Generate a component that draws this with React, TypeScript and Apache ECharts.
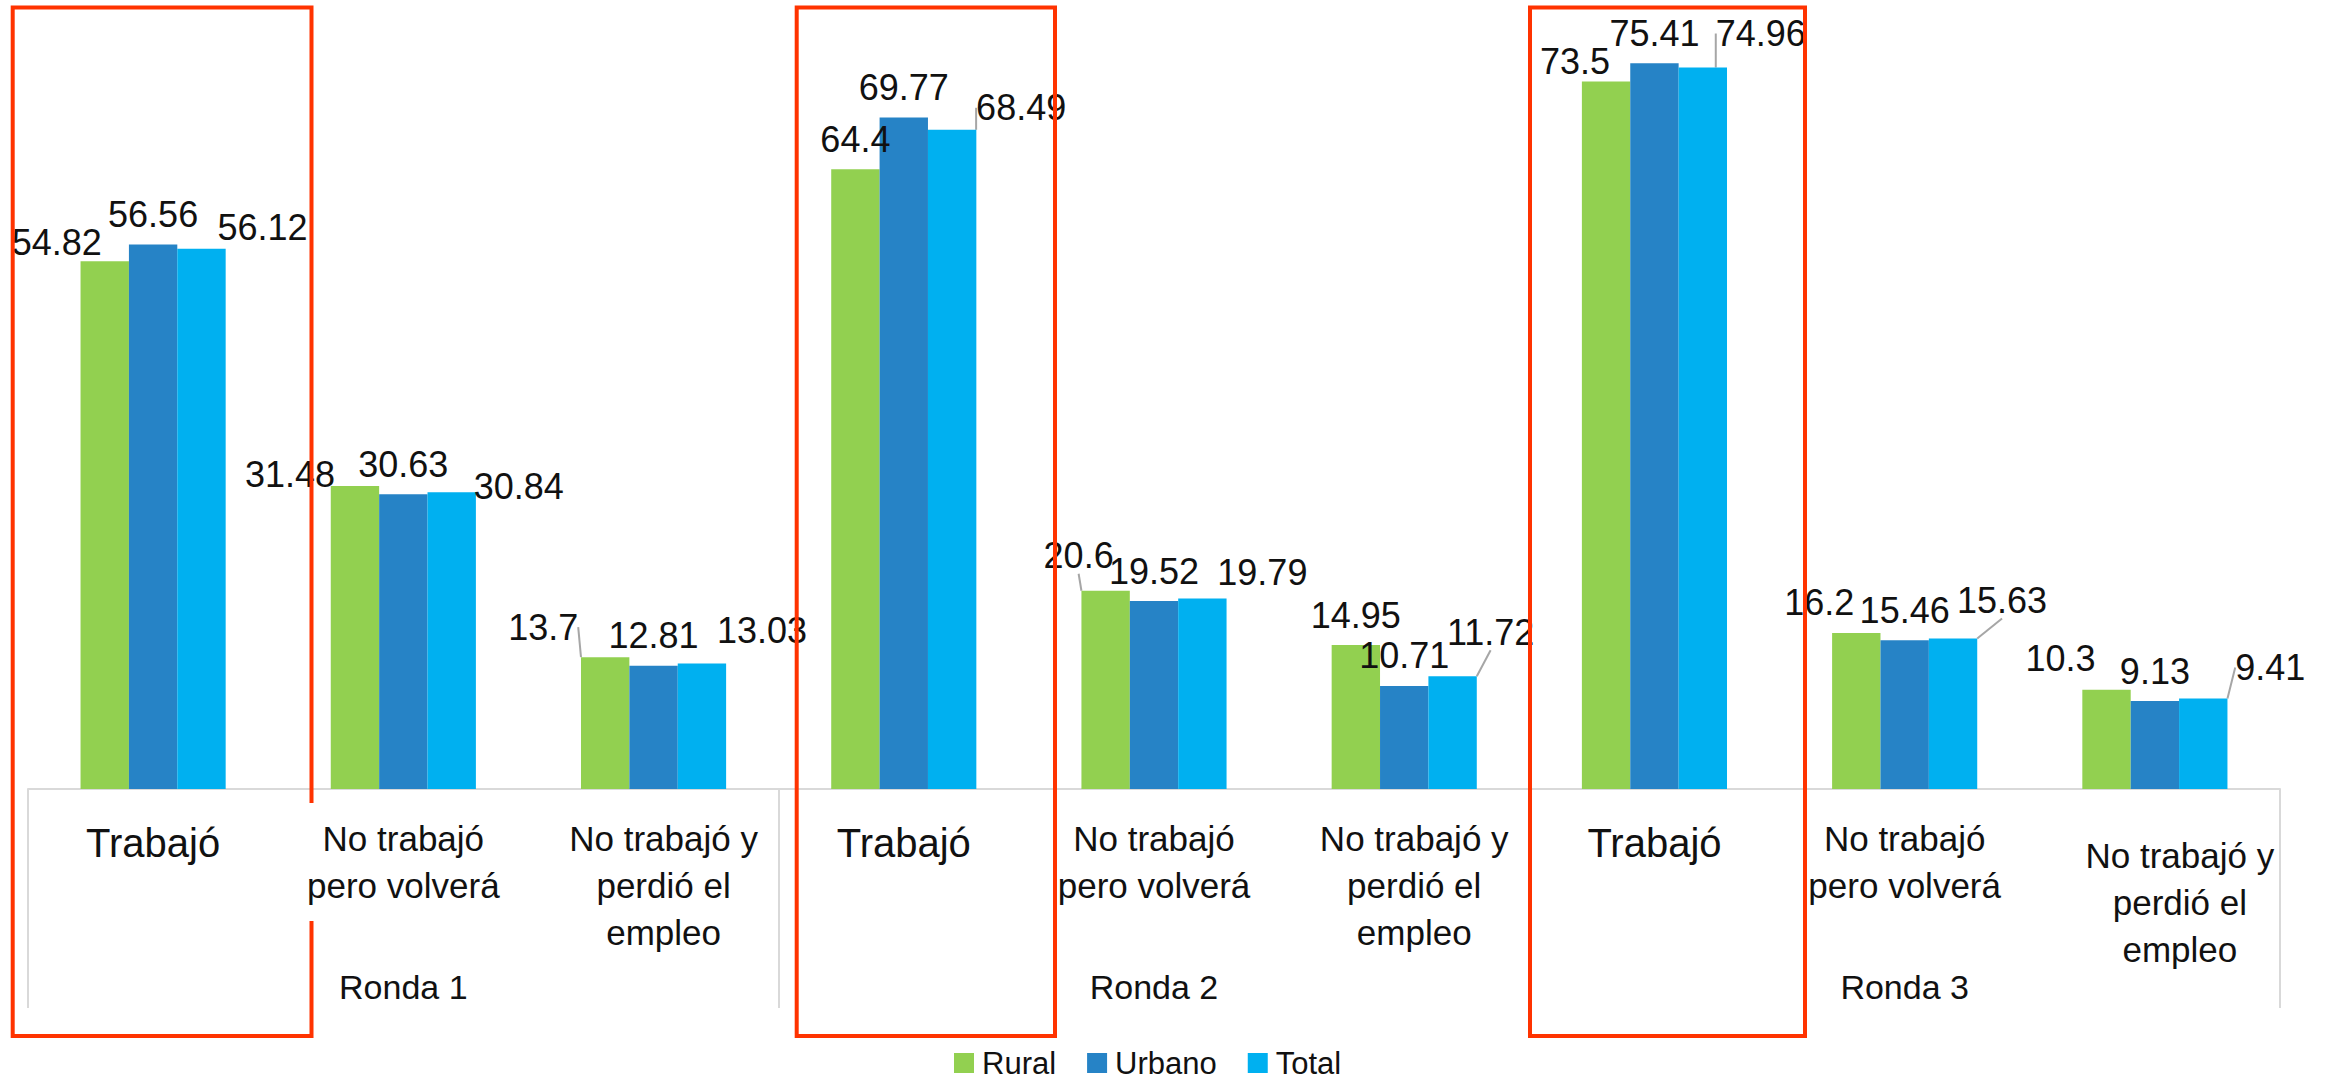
import React, { useEffect, useRef } from 'react';
import * as echarts from 'echarts';

// ---- data ----
const categories = [
  'Trabajó', 'No trabajó\npero volverá', 'No trabajó y\nperdió el\nempleo',
  'Trabajó', 'No trabajó\npero volverá', 'No trabajó y\nperdió el\nempleo',
  'Trabajó', 'No trabajó\npero volverá', 'No trabajó y\nperdió el\nempleo',
];
const rounds = ['Ronda 1', 'Ronda 2', 'Ronda 3'];
const seriesNames = ['Rural', 'Urbano', 'Total'];
const rural = [54.82, 31.48, 13.7, 64.4, 20.6, 14.95, 73.5, 16.2, 10.3];
const urbano = [56.56, 30.63, 12.81, 69.77, 19.52, 10.71, 75.41, 15.46, 9.13];
const total = [56.12, 30.84, 13.03, 68.49, 19.79, 11.72, 74.96, 15.63, 9.41];

// ---- label nudges (px) ----
const ruralDx = [-48, -65, -62, 0, -27, 0, -31, -37, -46];
const ruralDy = [11, 18, 0, 0, -5, 0, 10, -1, -1];
const ruralLine = [0, 0, 1, 0, 1, 0, 0, 0, 0];
const urbanoDx = [0, 0, 0, 0, 0, 0, 0, 0, 0];
const urbanoDy = [0, 0, 0, 0, 0, 0, 0, 0, 0];
const urbanoLine = [0, 0, 0, 0, 0, 0, 0, 0, 0];
const totalDx = [61, 67, 60, 69, 60, 38, 58, 49, 67];
const totalDy = [9, 24, -3, 8, 4, -14, -4, -8, -1];
const totalLine = [0, 0, 0, 1, 0, 1, 1, 1, 1];

const colors = ['#92D050', '#2683C6', '#00B0F0'];
const FONT = '"Liberation Sans", Arial, sans-serif';
const TEXT = '#111111';

export default function App() {
  const ref = useRef<HTMLDivElement>(null);
  useEffect(() => {
    document.body.style.margin = '0';
    const chart = echarts.init(ref.current!, null, { renderer: 'svg' });

    const mk = (name: string, values: number[], color: string, dx: number[], dy: number[], line: number[]) => ({
      type: 'bar',
      name,
      xAxisIndex: 0,
      data: values.map((v, i) => ({ value: v, labelLine: { show: !!line[i] } })),
      itemStyle: { color },
      barGap: '0%',
      barCategoryGap: '42%',
      label: { show: true, position: 'top', distance: 12, fontSize: 36, fontFamily: FONT, color: TEXT },
      labelLine: { show: false, lineStyle: { color: '#A6A6A6', width: 2 } },
      labelLayout: (p: any) => ({ dx: dx[p.dataIndex], dy: dy[p.dataIndex] }),
    });

    const catData = categories.map((c, i) => {
      if (c.startsWith('No trabajó y')) {
        return { value: c, textStyle: { padding: i === 8 ? [17, 0, 0, 50] : [0, 0, 0, 20] } };
      }
      return { value: c };
    });

    const red = { stroke: '#FF3300', lineWidth: 4, fill: 'none' };

    chart.setOption({
      animation: false,
      backgroundColor: '#ffffff',
      grid: { left: 28, right: 53, top: 19, bottom: 292, containLabel: false },
      legend: {
        data: seriesNames,
        left: 949,
        top: 1042,
        icon: 'rect',
        itemWidth: 20,
        itemHeight: 20,
        itemGap: 31,
        textStyle: { fontSize: 31, lineHeight: 32, fontFamily: FONT, color: TEXT, padding: [0, 0, 0, 3] },
      },
      xAxis: [
        {
          type: 'category',
          data: catData,
          position: 'bottom',
          axisLine: { show: true, lineStyle: { color: '#D9D9D9', width: 2 } },
          axisTick: { show: false },
          axisLabel: {
            interval: 0,
            margin: 26,
            fontSize: 35,
            lineHeight: 47,
            fontFamily: FONT,
            color: TEXT,
            formatter: (v: string) => (v === 'Trabajó' ? '{big|' + v + '}' : v),
            rich: { big: { fontSize: 40, lineHeight: 56, fontFamily: FONT, color: TEXT } },
          },
        },
        {
          type: 'category',
          data: rounds,
          position: 'bottom',
          gridIndex: 0,
          axisLine: { show: false },
          axisTick: { show: true, interval: 0, length: 219, lineStyle: { color: '#D9D9D9', width: 2 } },
          axisLabel: { interval: 0, margin: 178, fontSize: 34, lineHeight: 40, fontFamily: FONT, color: TEXT },
        },
      ],
      yAxis: { type: 'value', min: 0, max: 80, show: false, splitLine: { show: false } },
      series: [
        mk(seriesNames[0], rural, colors[0], ruralDx, ruralDy, ruralLine),
        mk(seriesNames[1], urbano, colors[1], urbanoDx, urbanoDy, urbanoLine),
        mk(seriesNames[2], total, colors[2], totalDx, totalDy, totalLine),
      ],
      graphic: [
        {
          type: 'polyline',
          z: 100,
          shape: { points: [[311.5, 803], [311.5, 7.5], [12.7, 7.5], [12.7, 1036], [311.5, 1036], [311.5, 921]] },
          style: red,
        },
        { type: 'rect', z: 100, shape: { x: 796.7, y: 7.5, width: 258.3, height: 1028.5 }, style: red },
        { type: 'rect', z: 100, shape: { x: 1530, y: 7.5, width: 275, height: 1028.5 }, style: red },
      ],
    });
    return () => chart.dispose();
  }, []);
  return <div ref={ref} style={{ position: 'absolute', left: 0, top: 0, width: 2333, height: 1081 }} />;
}
